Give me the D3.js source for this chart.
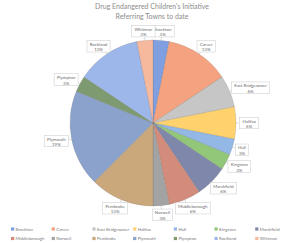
<!DOCTYPE html>
<html>
<head>
<meta charset="utf-8">
<script src="https://cdn.jsdelivr.net/npm/d3@7"></script>
<style>
  body { margin: 0; background: #fff; }
  svg { display: block; font-family: Lato, "Open Sans", sans-serif; }
</style>
</head>
<body>
<div class="chart"></div>
<script>
// referral counts by town (percent labels derived from these)
var towns = ["Brockton", "Carver", "East Bridgewater", "Halifax", "Hull", "Kingston", "Marshfield",
             "Middleborough", "Norwell", "Pembroke", "Plymouth", "Plympton", "Rockland", "Whitman"];
var referrals = [1, 4, 2, 2, 1, 1, 2, 2, 1, 4, 6, 1, 4, 1];
var sliceColors = ["#7f9fe0", "#f4a27f", "#c6c6c6", "#ffd26e", "#93b8e6", "#92c77a", "#7f88aa",
                   "#d38c7c", "#a3a3a3", "#cba87c", "#8ba3cc", "#7e9a70", "#9db7ea", "#f6b99e"];
var titleLines = ["Drug Endangered Children's Initiative", "Referring Towns to date"];

var width = 300, height = 243;
var cx = 153, cy = 123, radius = 83;

var svg = d3.select(".chart").append("svg")
  .attr("width", width)
  .attr("height", height);

// title
svg.append("g").selectAll("text")
  .data(titleLines).enter()
  .append("text")
  .attr("x", 152)
  .attr("y", function(d, i) { return 9 + i * 9.5; })
  .attr("text-anchor", "middle")
  .attr("font-size", "7px")
  .attr("fill", "#8c8c8c")
  .text(function(d) { return d; });

var data = towns.map(function(t, i) { return {town: t, value: referrals[i], color: sliceColors[i]}; });
var total = d3.sum(referrals);
var pct = d3.format(".0%");

var pie = d3.pie().sort(null).value(function(d) { return d.value; });
var arc = d3.arc().innerRadius(0).outerRadius(radius);
var arcs = pie(data);

var pieG = svg.append("g").attr("transform", "translate(" + cx + "," + cy + ")");

pieG.selectAll("path")
  .data(arcs).enter()
  .append("path")
  .attr("d", arc)
  .attr("fill", function(d) { return d.data.color; })
  .attr("stroke", "rgba(90,90,90,0.35)")
  .attr("stroke-width", 0.5);

// data labels in boxes outside the pie
var gap = 3.5;
var labelG = pieG.selectAll("g.lbl")
  .data(arcs).enter()
  .append("g").attr("class", "lbl");

labelG.each(function(d) {
  var g = d3.select(this);
  var a = (d.startAngle + d.endAngle) / 2;
  var sx = Math.sin(a), sy = -Math.cos(a);
  var px = (radius + gap) * sx, py = (radius + gap) * sy;

  var t = g.append("text")
    .attr("text-anchor", "middle")
    .attr("font-size", "4.4px")
    .attr("fill", "#6b6b6b");
  t.append("tspan").attr("x", 0).attr("dy", "-0.15em").text(d.data.town);
  t.append("tspan").attr("x", 0).attr("dy", "1.25em").text(pct(d.data.value / total));

  var bb = t.node().getBBox();
  var w = bb.width + 5, h = 11.5;
  var bx = px + sx * w / 2, by = py + sy * h / 2;

  g.insert("line", "text")
    .attr("x1", radius * sx).attr("y1", radius * sy)
    .attr("x2", px).attr("y2", py)
    .attr("stroke", "#a6a6a6").attr("stroke-width", 0.4);

  g.insert("rect", "text")
    .attr("x", bx - w / 2).attr("y", by - h / 2)
    .attr("width", w).attr("height", h)
    .attr("fill", "#fff")
    .attr("stroke", "#c8c8c8").attr("stroke-width", 0.5);

  t.attr("transform", "translate(" + bx + "," + (by + 0.3) + ")");
});

// legend, two rows of seven
var legend = svg.append("g");
var cols = 7, colW = 40.7, row0 = 229, rowH = 9.5;
var item = legend.selectAll("g")
  .data(data).enter()
  .append("g")
  .attr("transform", function(d, i) {
    return "translate(" + (11 + (i % cols) * colW) + "," + (row0 + Math.floor(i / cols) * rowH) + ")";
  });
item.append("rect")
  .attr("x", 0).attr("y", -1.6)
  .attr("width", 3.2).attr("height", 3.2)
  .attr("fill", function(d) { return d.color; });
item.append("text")
  .attr("x", 4.6).attr("y", 1.6)
  .attr("font-size", "4.3px")
  .attr("fill", "#7a7a7a")
  .text(function(d) { return d.town; });
</script>
</body>
</html>
